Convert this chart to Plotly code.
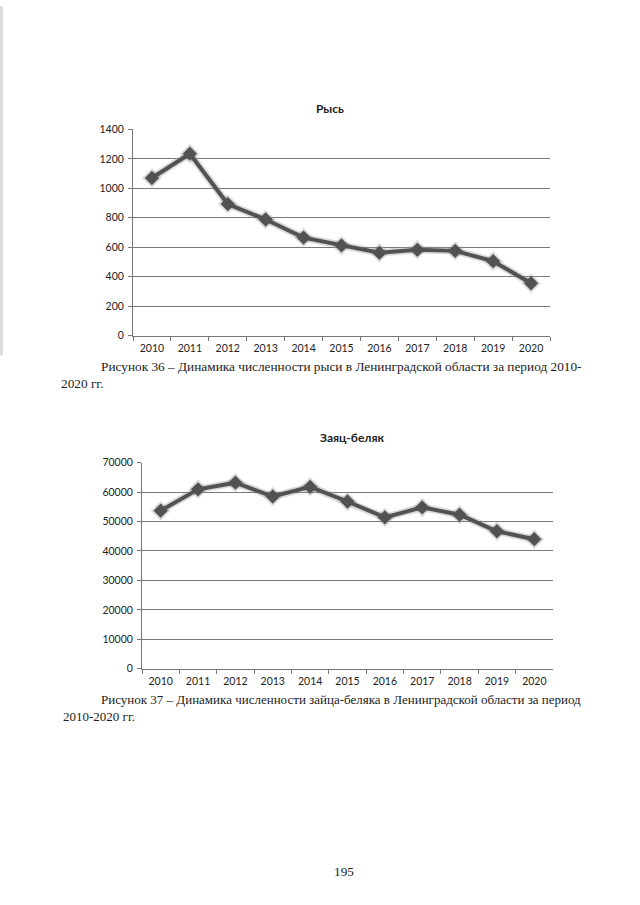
import plotly.graph_objects as go

years = ["2010", "2011", "2012", "2013", "2014", "2015", "2016", "2017", "2018", "2019", "2020"]
lynx = [1070, 1235, 893, 788, 665, 612, 562, 582, 575, 505, 355]
hare = [53700, 60950, 63200, 58500, 61800, 56800, 51400, 54800, 52300, 46700, 44000]

lynx_ticks = [0, 200, 400, 600, 800, 1000, 1200, 1400]
hare_ticks = [0, 10000, 20000, 30000, 40000, 50000, 60000, 70000]

W, H = 640, 905
def px(x): return x / W
def py(y):
    t = (y - 5.7) / 0.986
    return 1 - t / H

line_col = "#525252"
fig = go.Figure()

for vals, xa, ya in [(lynx, "x", "y"), (hare, "x2", "y2")]:
    fig.add_trace(go.Scatter(x=years, y=vals, xaxis=xa, yaxis=ya, mode="lines+markers",
                             line=dict(color="rgba(150,150,150,0.35)", width=7.5),
                             marker=dict(symbol="diamond", size=15, color="rgba(150,150,150,0.35)"),
                             hoverinfo="skip", showlegend=False))
    fig.add_trace(go.Scatter(x=years, y=vals, xaxis=xa, yaxis=ya, mode="lines+markers",
                             line=dict(color=line_col, width=4),
                             marker=dict(symbol="diamond", size=11, color=line_col),
                             showlegend=False))

tickfont = dict(family="Lato, Liberation Sans, sans-serif", size=10.5, color="#222")
xcommon = dict(type="category", range=[-0.5, 10.5], showgrid=False, showline=True,
               linecolor="#777", linewidth=1, ticks="outside", tickson="boundaries",
               ticklen=4, tickcolor="#777", tickfont=tickfont, fixedrange=True,
               ticklabelstandoff=3)
ycommon = dict(showgrid=True, gridcolor="#7a7a7a", gridwidth=1, showline=True,
               linecolor="#777", linewidth=1, ticks="outside", ticklen=4, tickcolor="#777",
               tickfont=tickfont, zeroline=False, fixedrange=True, tickformat="d",
               ticklabelstandoff=2)

fig.update_layout(
    width=W, height=H, margin=dict(l=0, r=0, t=0, b=0),
    paper_bgcolor="white", plot_bgcolor="white",
    xaxis=dict(domain=[px(133), px(550)], anchor="y", **xcommon),
    yaxis=dict(domain=[py(335), py(129)], anchor="x", range=[0, 1400],
               tickvals=lynx_ticks, **ycommon),
    xaxis2=dict(domain=[px(142), px(553)], anchor="y2", **xcommon),
    yaxis2=dict(domain=[py(668), py(462)], anchor="x2", range=[0, 70000],
                tickvals=hare_ticks, **ycommon),
)

serif = dict(family="Liberation Serif, Times New Roman, serif", size=13.3, color="#222")
serif2 = dict(family="Liberation Serif, Times New Roman, serif", size=13.0, color="#222")
sans_title = dict(family="Lato, Liberation Sans, sans-serif", size=12, color="#222")
ann = [
    dict(text="<b>Рысь</b>", x=px(330), y=py(108), font=sans_title),
    dict(text="<b>Заяц-беляк</b>", x=px(352), y=py(437), font=sans_title),
    dict(text="Рисунок 36 – Динамика численности рыси в Ленинградской области за период 2010-",
         x=px(99), y=py(366), xanchor="left", font=serif),
    dict(text="2020 гг.", x=px(59), y=py(383), xanchor="left", font=serif),
    dict(text="Рисунок 37 – Динамика численности зайца-беляка в Ленинградской области за период",
         x=px(99), y=py(699), xanchor="left", font=serif2),
    dict(text="2010-2020 гг.", x=px(61), y=py(716), xanchor="left", font=serif2),
    dict(text="195", x=px(344), y=py(871), font=serif),
]
for a in ann:
    a.setdefault("xanchor", "center")
    fig.add_annotation(xref="paper", yref="paper", showarrow=False, yanchor="middle", **a)

fig.add_shape(type="rect", xref="paper", yref="paper", x0=0, x1=px(3), y0=py(355), y1=1,
              fillcolor="#dcdcdc", line=dict(width=0))

fig.write_html("out.html", config={"displayModeBar": False},
               post_script="document.body.style.margin='0';document.documentElement.style.overflow='hidden';")
